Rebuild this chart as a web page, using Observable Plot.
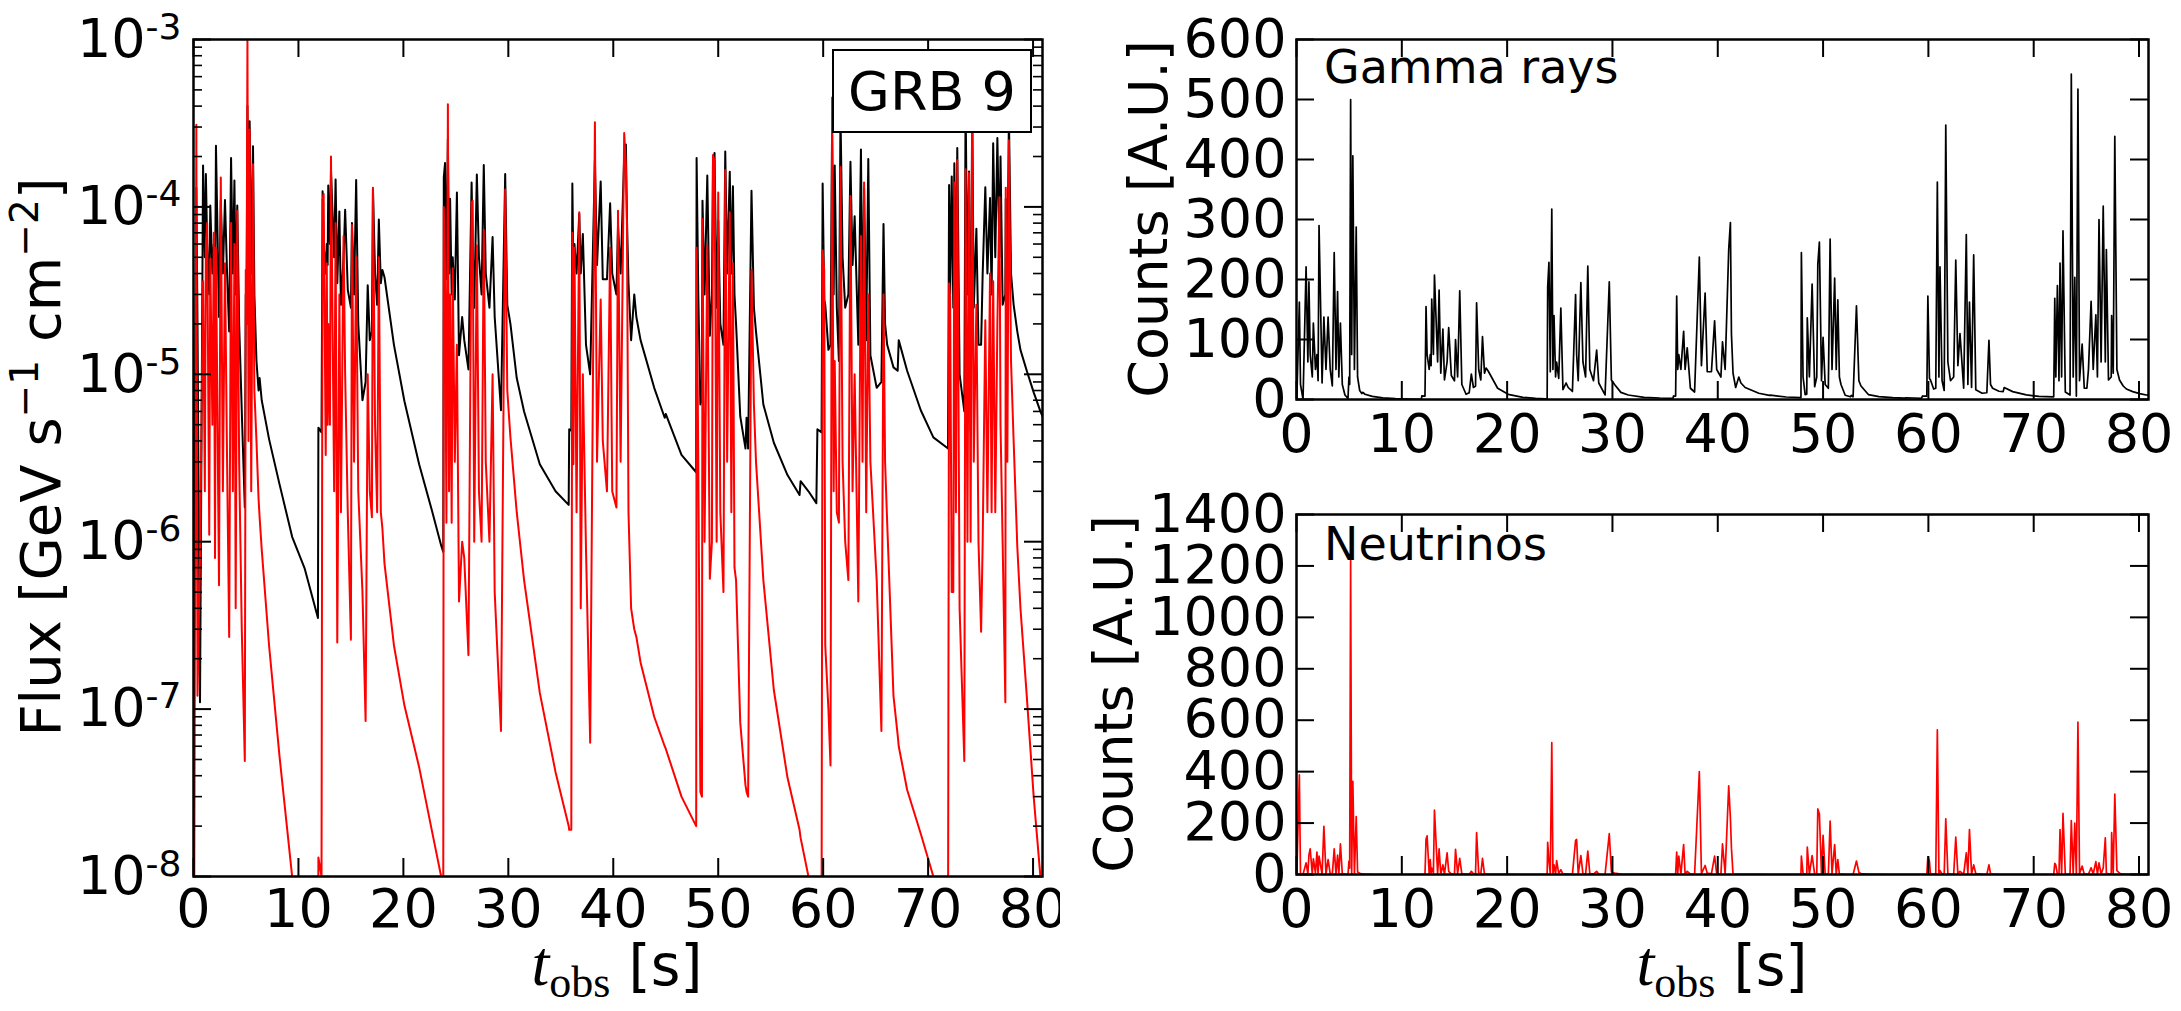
<!DOCTYPE html>
<html><head><meta charset="utf-8">
<script src="https://cdn.jsdelivr.net/npm/d3@7"></script>
<script src="https://cdn.jsdelivr.net/npm/@observablehq/plot@0.6"></script>
<style>
html,body{margin:0;padding:0;background:#fff;}
#fig{position:relative;width:2181px;height:1011px;overflow:hidden;background:#fff;}
#fig svg{position:absolute;}
.legend{position:absolute;left:832px;top:49px;width:200px;height:84px;box-sizing:border-box;border:2.5px solid #000;background:#fff;font-family:"DejaVu Sans";font-size:54px;display:flex;align-items:center;justify-content:center;}
</style></head><body><div id="fig"></div>
<script>
// Tick values
const timeTicks = [0, 10, 20, 30, 40, 50, 60, 70, 80];
const fluxTicks = [1e-8, 1e-7, 1e-6, 1e-5, 1e-4, 1e-3];
const gammaCountTicks = [0, 100, 200, 300, 400, 500, 600];
const nuCountTicks = [0, 200, 400, 600, 800, 1000, 1200, 1400];
const countsPerFlux = 1.25e6; // counts [A.U.] per GeV s^-1 cm^-2

// Light curve, rows of [t_obs (s), gamma flux, neutrino flux] per emission episode
const burst1 = [
[0.00,1e-9,1e-9],[0.03,2e-7,1e-9],[0.27,1.3e-4,3.1e-4],[0.38,2e-5,1.2e-7],[0.62,1.1e-7,8e-7],
[0.91,1.77e-4,3.6e-5],[1.08,5e-5,2e-6],[1.18,1.57e-4,6e-5],[1.30,6e-5,8e-5],[1.50,3e-5,1.1e-6],
[1.60,1.02e-4,4.9e-5],[1.80,4e-5,5e-6],[1.94,6e-5,7e-5],[2.05,2.5e-5,8e-7],[2.14,2.32e-4,5.7e-5],
[2.43,2.2e-5,5.5e-7],[2.60,1.1e-4,1.5e-4],[2.80,4e-5,2e-6],[3.00,1.1e-4,4.6e-5],[3.20,4e-5,3e-6],
[3.40,1.8e-5,2.7e-7],[3.58,1.96e-4,8e-5],[3.75,4e-5,2e-6],[3.90,1.44e-4,6e-5],[4.02,3e-5,4e-7],
[4.17,1.02e-4,9.5e-5],[4.35,2e-5,3e-6],[4.60,6e-6,3e-7],[4.89,1.6e-6,4.9e-8],[4.98,3e-5,4.2e-5],
[5.05,2e-5,2e-5],[5.14,4.0e-4,9.8e-4],[5.24,6e-5,4e-6],[5.35,3.25e-4,2.9e-4],[5.50,4e-5,2e-6],
[5.67,2.3e-4,1.8e-4],[5.80,3e-5,8e-6],[6.00,1.2e-5,4e-6],[6.20,8e-6,1.8e-6],[6.30,9.5e-6,1.4e-6],
[6.50,7e-6,9e-7],[7.20,4.1e-6,2.4e-7],[8.20,2.2e-6,5.2e-8],[9.40,1.07e-6,1e-8],[10.60,6.9e-7,3e-9],
[11.86,3.5e-7,1e-9]];
const burst2 = [
[11.90,4.8e-6,1.3e-8],[12.20,4.5e-6,1e-8],[12.30,1.24e-4,1.1e-4],[12.40,6e-5,1.2e-4],[12.60,4e-5,3.3e-6],
[12.70,6e-5,4.6e-5],[12.78,4.5e-5,5e-6],[12.84,1.34e-4,2e-5],[13.00,6e-5,5e-6],[13.10,1.66e-4,2e-4],
[13.40,5e-5,2e-6],[13.54,1.46e-4,8e-5],[13.70,3.5e-5,2.5e-7],[13.90,9.4e-5,3e-5],[14.05,2.6e-5,1.5e-6],
[14.30,5e-5,6.7e-5],[14.45,9.6e-5,1e-5],[14.70,3.2e-5,1.5e-6],[15.00,2.5e-5,2.6e-7],[15.10,8e-5,7.8e-5],
[15.30,3e-5,3e-6],[15.50,1.45e-4,5e-5],[15.70,2e-5,2e-6],[16.10,7e-6,5e-7],[16.40,9e-6,8.5e-8],
[16.60,3.4e-5,1e-5],[16.80,1.6e-5,2e-6],[17.00,1.8e-5,1.4e-6],[17.10,1.29e-4,1.3e-4],[17.30,4e-5,5e-6],
[17.50,2.6e-5,1.5e-6],[17.66,8.4e-5,5e-5],[17.85,3.5e-5,1.5e-6],[18.00,4.2e-5,1.2e-6],[18.20,3.8e-5,7.4e-7],
[19.10,1.5e-5,2.4e-7],[20.10,6.9e-6,1.05e-7],[21.50,2.9e-6,4.5e-8],[22.70,1.55e-6,1.9e-8],[23.60,9.5e-7,1e-8],
[23.80,8.7e-7,8e-9]];
const burst3 = [
[23.85,1.5e-4,1e-4],[23.97,1.83e-4,4.3e-5],[24.10,3.7e-5,1.3e-6],[24.24,2.54e-4,4.1e-4],[24.35,4e-5,2e-6],
[24.45,1.12e-4,3e-5],[24.60,3e-5,1.3e-6],[24.70,5e-5,4.3e-5],[24.90,2.8e-5,3e-6],[25.10,1.22e-4,1.5e-5],
[25.30,1.3e-5,4.4e-7],[25.60,2.2e-5,1e-6],[25.80,1.6e-5,8e-7],[26.20,1.07e-5,2.1e-7],[26.50,1.4e-4,1.06e-4],
[26.60,6e-5,1.09e-4],[26.75,2.5e-5,1e-6],[27.00,1.56e-4,5.9e-5],[27.20,5e-5,2e-6],[27.45,3e-5,1e-6],
[27.66,1.78e-4,7.3e-5],[27.85,4e-5,3e-6],[28.20,2.5e-5,1e-6],[28.50,6.6e-5,1e-5],[28.70,2.2e-5,5e-7],
[29.30,6.1e-6,7.4e-8],[29.70,1.57e-4,1.27e-4],[29.90,2.6e-5,8e-6],[30.20,2e-5,4.2e-6],[30.80,9.5e-6,1.5e-6],
[31.50,6e-6,5.9e-7],[33.00,2.9e-6,1.25e-7],[34.50,2e-6,4.2e-8],[35.75,1.66e-6,2e-8]];
const burst4 = [
[35.80,4.7e-6,1.9e-8],[36.00,4.6e-6,1.9e-8],[36.10,1.38e-4,7e-5],[36.20,4e-5,2.9e-6],[36.30,6e-5,5.7e-5],
[36.50,4e-5,1.5e-6],[36.76,9.1e-5,9.3e-5],[36.90,4e-5,4e-7],[37.10,6.9e-5,1e-5],[37.40,1.5e-5,9e-7],
[37.80,1e-5,6.3e-8],[38.25,1.9e-4,3.2e-4],[38.45,4.5e-5,3e-6],[38.80,1.42e-4,2.8e-5],[39.00,3.7e-5,4e-6],
[39.40,3.7e-5,2e-6],[39.70,1.05e-4,5.7e-5],[39.90,4e-5,2e-6],[40.30,3e-5,1.6e-6],[40.45,7.7e-5,9.5e-5],
[40.70,4e-5,3e-6],[41.04,2e-4,2.76e-4],[41.20,2.36e-4,1.76e-4],[41.30,8.7e-5,8.2e-5],[41.45,3.5e-5,1.5e-6],
[41.70,1.6e-5,4e-7],[42.00,3e-5,3e-7],[42.20,2.2e-5,2.7e-7],[42.60,1.6e-5,1.9e-7],[43.90,8.3e-6,9e-8],
[44.90,5.5e-6,6e-8],[45.00,5.8e-6,5.8e-8],[46.50,3.3e-6,3e-8],[47.90,2.6e-6,2e-8]];
const burst5 = [
[47.94,1.96e-4,5.7e-5],[48.10,3e-5,3e-6],[48.30,6.6e-6,3.2e-8],[48.45,7e-6,3e-8],[48.50,1.09e-4,8.5e-5],
[48.70,3e-5,1e-6],[48.96,1.54e-4,5.9e-5],[49.20,1.7e-5,6e-7],[49.40,3e-5,1e-6],[49.50,1.8e-4,2.04e-4],
[49.65,2.1e-4,1.88e-4],[49.85,2.5e-5,1e-6],[50.00,8.3e-5,1.22e-4],[50.20,2e-5,1.5e-6],[50.50,1.5e-5,5e-7],
[50.67,2.14e-4,1.66e-4],[50.85,4e-5,3e-6],[51.10,1.62e-4,9.3e-5],[51.25,4e-5,1.5e-6],[51.40,1.33e-4,4.6e-5],
[51.55,3e-5,7e-7],[51.70,2e-5,5.9e-7],[52.10,5.6e-6,8.3e-8],[52.60,3.6e-6,3.5e-8],[52.70,5.5e-6,3.2e-8],
[52.85,3.6e-6,3e-8],[53.17,1.25e-4,4.2e-5],[53.40,2.5e-5,6.6e-6],[53.60,1.8e-5,3e-6],[54.30,6.6e-6,5.9e-7],
[55.30,3.9e-6,1.3e-7],[56.60,2.5e-6,3.9e-8],[57.75,1.9e-6,1.9e-8],[57.85,2.3e-6,1.7e-8],[58.60,2e-6,1e-8],
[59.35,1.7e-6,7e-9]];
const burst6 = [
[59.45,4.7e-6,7e-9],[59.85,4.5e-6,7e-9],[59.95,1.38e-4,5.5e-5],[60.10,2.8e-5,4.2e-5],[60.20,2.6e-5,2.4e-7],
[60.50,1.4e-5,1e-7],[60.70,1.5e-5,4.6e-8],[60.85,2.9e-4,4.5e-4],[61.00,3e-5,2e-6],[61.10,1.77e-4,1.2e-5],
[61.30,2.5e-5,1.5e-6],[61.50,1.2e-5,1.3e-6],[61.65,3.66e-4,1.73e-4],[61.85,5e-5,3e-6],[62.10,2.5e-5,1e-6],
[62.40,3e-5,5.9e-7],[62.60,1.86e-4,1.16e-4],[62.80,4.5e-5,2e-6],[63.00,8.8e-5,1e-5],[63.35,1.5e-5,4.4e-7],
[63.60,2.2e-4,6.7e-5],[63.75,2e-5,3e-6],[63.90,1.3e-4,1.4e-4],[64.10,1.6e-5,1.5e-6],[64.30,1.93e-4,3e-5],
[64.50,1.3e-5,3e-6],[65.10,8.3e-6,5.9e-7],[65.55,9e-6,7.4e-8],[65.75,7.9e-5,3e-5],[65.90,2e-5,3e-6],
[66.10,1.5e-5,1.3e-6],[66.70,1.1e-5,1.2e-7],[67.10,1.05e-5,7e-8],[67.20,1.6e-5,6e-8],[68.00,1.05e-5,3.3e-8],
[69.30,6.1e-6,1.8e-8],[70.50,4.2e-6,1e-8],[71.90,3.6e-6,5e-9]];
const burst7 = [
[72.00,1.35e-4,3.5e-5],[72.10,3e-5,2.9e-5],[72.25,1.52e-4,5e-7],[72.40,2.5e-5,5e-7],[72.50,1.82e-4,1.4e-4],
[72.65,3e-5,1.5e-6],[72.78,2.25e-4,1.9e-4],[73.00,1e-5,4e-7],[73.45,6e-6,4.9e-8],[73.57,4.34e-4,1.68e-4],
[73.75,3e-5,1e-6],[73.90,1.63e-4,1.6e-4],[74.05,4.6e-6,1e-6],[74.20,4.14e-4,4.74e-4],[74.35,2.5e-5,3e-6],
[74.60,7.4e-5,2.6e-5],[74.80,1.5e-5,1e-6],[75.05,1.5e-5,2.9e-7],[75.20,4e-5,1e-6],[75.45,1.31e-4,2.1e-5],
[75.65,4e-5,1.5e-6],[75.90,1.13e-4,4e-5],[76.05,3e-5,1.5e-6],[76.20,2.4e-4,3.6e-5],[76.40,5e-5,1.5e-6],
[76.60,2.58e-4,2e-5],[76.80,5e-5,1.14e-4],[76.90,2e-4,5e-6],[77.10,2.6e-5,1e-6],[77.36,3e-5,1.1e-7],
[77.40,1.12e-4,1.3e-4],[77.55,3.5e-5,3e-6],[77.70,3.51e-4,2.5e-4],[77.90,4e-5,1.2e-5],[78.15,2.6e-5,4e-6],
[78.50,1.8e-5,9.3e-7],[78.80,1.4e-5,4e-7],[79.40,1.05e-5,1.2e-7],[80.06,7.8e-6,3e-8],[80.70,6e-6,1e-8],
[80.90,5.6e-6,8e-9]];

const rows = [burst1, burst2, burst3, burst4, burst5, burst6, burst7].flat()
  .map(([t, g, n]) => ({t, gamma: g, nu: n, gammaCounts: g * countsPerFlux, nuCounts: n * countsPerFlux}));

const minorFlux = [];
for (let e = -8; e <= -4; e++) for (let k = 2; k <= 9; k++) minorFlux.push(k * Math.pow(10, e));

const fig = document.getElementById("fig");
const FONT = "DejaVu Sans";
const baseStyle = {fontFamily: FONT, fontSize: "54px", background: "white", overflow: "visible"};
const tDomain = [0, 80.9];

function addXLabel(sv, x, y) {
  const xl = sv.append("text").attr("font-size", 57).attr("text-anchor", "middle").attr("x", x).attr("y", y);
  xl.append("tspan").attr("font-family", "Liberation Serif").attr("font-style", "italic").attr("font-size", 64).text("t");
  xl.append("tspan").attr("font-family", "Liberation Serif").attr("font-size", 44).attr("dy", 12).text("obs");
  xl.append("tspan").attr("font-family", FONT).attr("dy", -12).text(" [s]");
}

// ---------- Left panel ----------
const L = {w: 1060, h: 1011, ml: 193, mr: 18, mt: 39, mb: 135};
const Lfw = L.w - L.ml - L.mr, Lfh = L.h - L.mt - L.mb;
const left = Plot.plot({
  width: L.w, height: L.h, marginLeft: L.ml, marginRight: L.mr, marginTop: L.mt, marginBottom: L.mb,
  style: baseStyle,
  x: {domain: tDomain, label: null},
  y: {type: "log", domain: [1e-8, 1e-3], label: null},
  marks: [
    Plot.line(rows, {x: "t", y: "gamma", stroke: "#000", strokeWidth: 2, clip: true}),
    Plot.line(rows, {x: "t", y: "nu", stroke: "#ff0000", strokeWidth: 2, clip: true}),
    Plot.tickY(fluxTicks, {insetRight: Lfw - 18, strokeWidth: 2}),
    Plot.tickY(fluxTicks, {insetLeft: Lfw - 18, strokeWidth: 2}),
    Plot.tickY(minorFlux, {insetRight: Lfw - 9, strokeWidth: 1.6}),
    Plot.tickY(minorFlux, {insetLeft: Lfw - 9, strokeWidth: 1.6}),
    Plot.tickX(timeTicks, {insetTop: Lfh - 18, strokeWidth: 2}),
    Plot.tickX(timeTicks, {insetBottom: Lfh - 18, strokeWidth: 2}),
    Plot.frame({stroke: "#000", strokeWidth: 2.5}),
    Plot.axisX(timeTicks, {tickSize: 0, tickPadding: 12, tickFormat: d => String(d), label: null}),
    Plot.axisY(fluxTicks, {tickSize: 0, tickPadding: 12, tickFormat: d => String(Math.round(Math.log10(d))), label: null})
  ]
});
left.style.left = "0px"; left.style.top = "0px";
fig.appendChild(left);
d3.select(left).selectAll('g[aria-label="y-axis tick label"] text').each(function () {
  const e = this.textContent;
  this.textContent = "";
  const s = d3.select(this);
  s.append("tspan").text("10");
  s.append("tspan").attr("font-size", "36px").attr("dy", "-18px").text(e);
});
{
  const sv = d3.select(left);
  const yl = sv.append("text").attr("font-family", FONT).attr("font-size", 56).attr("text-anchor", "middle")
    .attr("transform", "translate(60,457) rotate(-90)");
  yl.append("tspan").text("Flux [GeV s");
  yl.append("tspan").attr("font-size", 39).attr("dy", -22).text("\u22121");
  yl.append("tspan").attr("dy", 22).text(" cm");
  yl.append("tspan").attr("font-size", 39).attr("dy", -22).text("\u22122");
  yl.append("tspan").attr("dy", 22).text("]");
  addXLabel(sv, 617, 985);
}
const legend = document.createElement("div");
legend.className = "legend"; legend.textContent = "GRB 9";
fig.appendChild(legend);

// ---------- Right panels ----------
function countsPanel(key, color, yTicks, yMax, dims, top, label, labelX, labelY, name, nameY, withXLabel) {
  const fw = dims.w - dims.ml - dims.mr, fh = dims.h - dims.mt - dims.mb;
  const p = Plot.plot({
    width: dims.w, height: dims.h, marginLeft: dims.ml, marginRight: dims.mr, marginTop: dims.mt, marginBottom: dims.mb,
    style: baseStyle,
    x: {domain: tDomain, label: null},
    y: {domain: [0, yMax], label: null},
    marks: [
      Plot.line(rows, {x: "t", y: key, stroke: color, strokeWidth: 1.7, clip: true}),
      Plot.tickY(yTicks, {insetRight: fw - 18, strokeWidth: 2}),
      Plot.tickY(yTicks, {insetLeft: fw - 18, strokeWidth: 2}),
      Plot.tickX(timeTicks, {insetTop: fh - 18, strokeWidth: 2}),
      Plot.tickX(timeTicks, {insetBottom: fh - 18, strokeWidth: 2}),
      Plot.frame({stroke: "#000", strokeWidth: 2.5}),
      Plot.axisX(timeTicks, {tickSize: 0, tickPadding: 14, tickFormat: d => String(d), label: null}),
      Plot.axisY(yTicks, {tickSize: 0, tickPadding: 10, tickFormat: d => String(d), label: null})
    ]
  });
  p.style.left = "1060px"; p.style.top = top + "px";
  fig.appendChild(p);
  const sv = d3.select(p);
  sv.append("text").attr("font-family", FONT).attr("font-size", 54).attr("text-anchor", "middle")
    .attr("transform", `translate(${labelX},${labelY}) rotate(-90)`).text(label);
  sv.append("text").attr("font-family", FONT).attr("font-size", 46).attr("text-anchor", "start")
    .attr("x", 264).attr("y", nameY).text(name);
  if (withXLabel) addXLabel(sv, 662, 515);
}
countsPanel("gammaCounts", "#000", gammaCountTicks, 600, {w: 1121, h: 470, ml: 236, mr: 33, mt: 39, mb: 71}, 0,
  "Counts [A.U.]", 107, 219, "Gamma rays", 83, false);
countsPanel("nuCounts", "#ff0000", nuCountTicks, 1400, {w: 1121, h: 541, ml: 236, mr: 33, mt: 44, mb: 137}, 470,
  "Counts [A.U.]", 72, 224, "Neutrinos", 90, true);
</script></body></html>
